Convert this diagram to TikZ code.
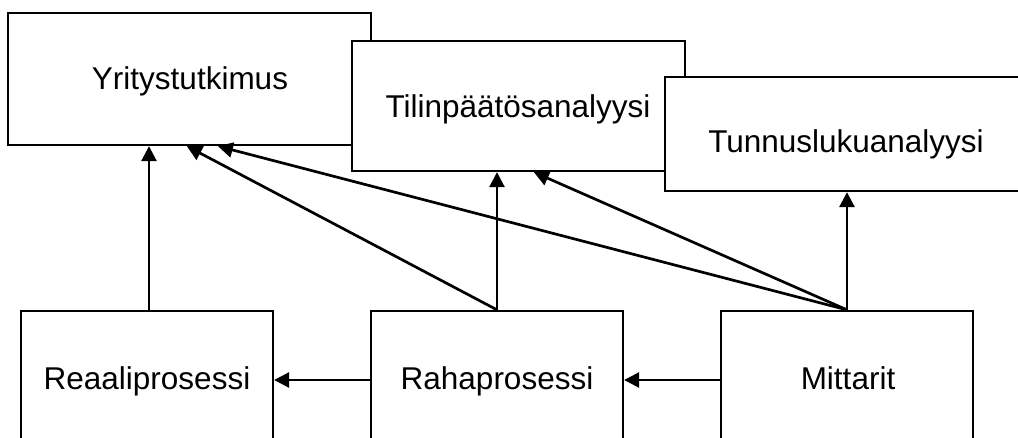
\documentclass[tikz,border=0pt]{standalone}
\usepackage{fontspec}
\setmainfont{Liberation Sans}
\usetikzlibrary{arrows.meta}
\begin{document}
\begin{tikzpicture}[x=1pt,y=-1pt,
  box/.style={draw=black,fill=white,line width=2.3pt,rectangle,inner sep=0pt},
  lbl/.style={anchor=base,inner sep=0pt,font=\fontsize{31.5}{36}\selectfont},
  arr/.style={line width=2.7pt,-{Triangle[length=15pt,width=15pt]}}]
  \useasboundingbox (0,0) rectangle (1018,437);
  \clip (0,0) rectangle (1018,437);
  % upper row, each box overlapping the previous one
  \node[box,minimum width=363pt,minimum height=132pt] (yrit) at (189.5,79) {};
  \node[box,minimum width=333pt,minimum height=130pt] (tilin) at (518.5,106) {};
  \node[box,minimum width=362pt,minimum height=114pt] (tunnus) at (846,134) {};
  % lower row
  \node[box,minimum width=252pt,minimum height=134pt] (reaali) at (147,378) {};
  \node[box,minimum width=252pt,minimum height=134pt] (raha) at (497,378) {};
  \node[box,minimum width=252pt,minimum height=134pt] (mitt) at (847,378) {};
  % labels
  \node[lbl] (yrit-t) at (190,89) {Yritystutkimus};
  \node[lbl] (tilin-t) at (518,117) {Tilinpäätösanalyysi};
  \node[lbl] (tunnus-t) at (846,152) {Tunnuslukuanalyysi};
  \node[lbl] (reaali-t) at (147,389) {Reaaliprosessi};
  \node[lbl] (raha-t) at (497,389) {Rahaprosessi};
  \node[lbl] (mitt-t) at (848,389) {Mittarit};
  % connectors
  \draw[arr] ([xshift=2pt]reaali.north) -- ([xshift=2pt]reaali.north |- yrit.south);
  \draw[arr] (raha.north) -- ([xshift=180pt]yrit.south west);
  \draw[arr] (raha.north) -- (raha.north |- tilin.south);
  \draw[arr] (mitt.north) -- ([xshift=211pt]yrit.south west);
  \draw[arr] (mitt.north) -- ([xshift=183pt]tilin.south west);
  \draw[arr] (mitt.north) -- (mitt.north |- tunnus.south);
  \draw[arr] ([yshift=-2pt]raha.west) -- ([yshift=-2pt]reaali.east);
  \draw[arr] ([yshift=-2pt]mitt.west) -- ([yshift=-2pt]raha.east);
\end{tikzpicture}
\end{document}
